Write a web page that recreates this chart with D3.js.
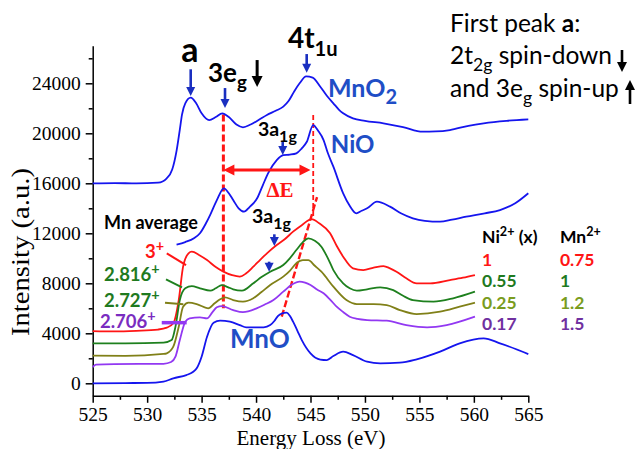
<!DOCTYPE html>
<html>
<head>
<meta charset="utf-8">
<script src="https://cdn.jsdelivr.net/npm/d3@7"></script>
<style>
  body { margin: 0; background: #fff; }
  svg { display: block; }
  .lbl { font-family: Lato, "Open Sans", sans-serif; font-weight: 700; }
</style>
</head>
<body>
<div id="chart"></div>
<script>
// Energy loss spectra (eV, a.u.)
const mno2 = [[525,16000],[527,16020],[529,15990],[531,16050],[531.8,16400],[532.3,17100],[532.7,18600],[533.0,20300],[533.2,21500],[533.5,22400],[534.0,22850],[534.5,22400],[535.0,21600],[535.7,21050],[536.3,21300],[536.9,21600],[537.5,21300],[538.2,20700],[538.8,20480],[539.5,20700],[540.3,21100],[541.0,21460],[541.8,21800],[542.5,22130],[543.0,22600],[543.5,23350],[544.0,24000],[544.6,24550],[545.2,24450],[545.9,23730],[546.5,23000],[547.1,22400],[547.6,21900],[548.0,21600],[548.9,21200],[550,21000],[551.7,20800],[553.5,20500],[555.3,20130],[556.5,20150],[557.8,20260],[559.5,20600],[560.9,20800],[563,21000],[565,21120]];
const nio = [[532.7,11100],[533.5,11300],[534.3,11600],[534.85,12000],[535.4,12800],[535.8,13500],[536.4,14660],[537.05,15600],[537.5,15200],[537.9,14660],[538.4,14000],[538.9,13730],[539.4,14100],[540.1,14800],[540.6,15800],[541.1,16800],[541.9,17860],[542.5,18260],[543.1,18300],[543.7,18400],[544.2,18800],[544.65,19300],[545.25,20660],[545.7,20200],[546.2,19460],[546.6,18400],[547.1,17330],[548.0,15200],[548.6,14200],[549.2,13600],[549.7,13800],[550.2,14000],[551.1,14530],[552.3,14130],[553.3,13600],[554.4,13200],[555.5,13000],[556.9,12930],[558,13100],[559.3,13330],[561,13600],[562.4,13860],[563.8,14400],[565,15200]];
const mn3 = [[525,4180],[527,4150],[529,4200],[531,4300],[531.8,4450],[532.4,4800],[532.9,6660],[533.3,9330],[533.8,10400],[534.1,10530],[534.8,10250],[535.5,9860],[536.3,9300],[537.0,8930],[537.8,8650],[538.5,8530],[539.1,8800],[539.75,9330],[540.4,9900],[541.0,10400],[541.9,11060],[542.6,11500],[543.4,12130],[544.2,12650],[545.1,13140],[545.8,12800],[546.8,12000],[547.4,11000],[548.0,10130],[548.9,9200],[549.85,9060],[550.8,9250],[551.7,9380],[552.3,9200],[552.9,8930],[553.8,8400],[554.75,8000],[556.0,8000],[557.8,8260],[559,8450],[560.1,8660]];
const mn2816 = [[525,3200],[528,3200],[531.5,3250],[532.25,3460],[532.6,4530],[533.0,6660],[533.5,7600],[534.1,7780],[534.85,7600],[535.8,7410],[536.3,7600],[536.85,7860],[537.4,7700],[537.9,7520],[538.7,7410],[539.75,8000],[540.5,8500],[541.3,8930],[542.5,9460],[543.1,10000],[543.7,10660],[544.3,11300],[544.8,11600],[545.4,11400],[546.0,10930],[546.6,10000],[547.1,9060],[548.0,8000],[548.6,7600],[549.25,7410],[550.2,7520],[551.4,7680],[552.6,7460],[553.5,7000],[554.4,6660],[556.3,6530],[558.1,6800],[560.1,7330]];
const mn2727 = [[525,2210],[528,2200],[531.5,2350],[531.8,2400],[532.4,2930],[532.9,4530],[533.3,6130],[533.8,6450],[534.55,6340],[535.6,6000],[536.2,6400],[536.7,6720],[537.15,6880],[537.9,6660],[538.8,6530],[539.75,6800],[540.5,7300],[541.3,7860],[542.5,8530],[543.1,9000],[543.7,9600],[544.3,9850],[544.8,9850],[545.4,9400],[546.0,8930],[547.1,7730],[548.3,6660],[549.25,6340],[550.8,6340],[552.0,6260],[553.2,5860],[554.75,5540],[556.9,5730],[558.7,6130],[560.1,6450]];
const mn2706 = [[525,1300],[525.3,1500],[527,1540],[531.5,1560],[532.2,1700],[532.6,2130],[533.0,3460],[533.5,4930],[533.9,5200],[534.85,5280],[535.5,5200],[536.0,5700],[536.4,6080],[536.85,6180],[537.9,5860],[538.8,5700],[540.05,6000],[540.8,6300],[541.6,6660],[542.5,7330],[543.3,7900],[544.0,8130],[544.5,8050],[545.0,7860],[545.6,7500],[546.2,7200],[546.8,6700],[547.4,6130],[548.0,5700],[548.6,5330],[549.3,5150],[550.2,5060],[552.0,5010],[553.8,4660],[555.7,4480],[557.5,4660],[560.1,5330]];
const mno = [[525,0],[528,20],[530,30],[531.5,130],[532.4,400],[533.6,660],[534.2,900],[534.55,1200],[535.0,2130],[535.5,3730],[536.1,4850],[536.7,5010],[537.6,4930],[538.5,4660],[539.1,4480],[540.7,4480],[541.3,4660],[541.7,5000],[542.0,5380],[542.4,5600],[542.8,5650],[543.1,5400],[543.4,4930],[543.8,4200],[544.2,3460],[545.0,2400],[545.9,1900],[546.5,1860],[547.1,2180],[548.0,2530],[548.9,2260],[550.2,1730],[551.4,1600],[553.2,1650],[554.75,1920],[556.9,2530],[558.7,3200],[560.9,3600],[562.4,3200],[565,2340]];

const series = [
  {data: mno2, color: "#1515ee"},
  {data: nio, color: "#1515ee"},
  {data: mn3, color: "#ff1515"},
  {data: mn2816, color: "#1e801e"},
  {data: mn2727, color: "#808018"},
  {data: mn2706, color: "#9238f2"},
  {data: mno, color: "#1515ee"}
];

const xTicks = [525, 530, 535, 540, 545, 550, 555, 560, 565];
const yTicks = [0, 4000, 8000, 12000, 16000, 20000, 24000];

// table on the right: Ni2+ fraction and Mn2+ content
const niFrac = ["1", "0.55", "0.25", "0.17"];
const mn2Frac = ["0.75", "1", "1.2", "1.5"];
const tableColors = ["#ff1515", "#1f7a1f", "#7a9c1e", "#7030a0"];

// Mn average valence labels with leader lines
const valenceLabels = [
  {txt: "3", e: 529.8, v: 10020, color: "#ff1515", lead: [[531.8,10400],[533.57,9460]], lc: "#ff1515", lw: 2},
  {txt: "2.816", e: 526.04, v: 8180, color: "#1f7a1f", lead: [[531.73,8320],[533.2,7680]], lc: "#1e801e", lw: 2},
  {txt: "2.727", e: 526.04, v: 6100, color: "#1f7a1f", lead: [[531.64,6450],[533.32,6320]], lc: "#808018", lw: 2},
  {txt: "2.706", e: 525.67, v: 4420, color: "#7a2cc0", lead: [[531.34,4850],[533.63,4850]], lc: "#9238f2", lw: 3.5}
];

// blue pointer arrows: [energy, from, to]
const blueArrows = [[534.0,25120,22980],[537.15,23620,22020],[544.65,26340,24850],[542.45,19300,18260],[541.68,11920,10980],[541.2,9730,8930]];

const W = 636, H = 449;
const serif = "'Liberation Serif', 'Times New Roman', serif";
const x = d3.scaleLinear().domain([525, 565]).range([92.7, 528.3]);
const y = d3.scaleLinear().domain([-1000, 27000]).range([395.8, 45.8]);

const svg = d3.select("#chart").append("svg").attr("width", W).attr("height", H);

// axes
const xg = svg.append("g").attr("transform", `translate(0,${y(-1000)})`);
xg.call(d3.axisBottom(x).tickValues(xTicks).tickSize(7).tickSizeOuter(0).tickPadding(4).tickFormat(d3.format("d")));
xg.append("g").call(d3.axisBottom(x).tickValues(xTicks.slice(0, -1).map(d => d + 2.5)).tickSize(4).tickFormat(""))
  .select(".domain").remove();
const yg = svg.append("g").attr("transform", `translate(${x(525)},0)`);
yg.call(d3.axisLeft(y).tickValues(yTicks).tickSize(7).tickSizeOuter(0).tickPadding(5).tickFormat(d3.format("d")));
yg.append("g").call(d3.axisLeft(y).tickValues(yTicks.map(d => d + 2000)).tickSize(4).tickFormat(""))
  .select(".domain").remove();
svg.selectAll(".domain, .tick line").attr("stroke", "#000").attr("stroke-width", 1.5);
svg.selectAll(".tick text").attr("font-family", serif).style("font-family", serif)
  .style("font-size", "19.5px").attr("fill", "#000");

svg.append("text")
  .attr("transform", "translate(311,445)")
  .attr("text-anchor", "middle")
  .attr("font-family", serif).style("font-family", serif)
  .style("font-size", "21px")
  .text("Energy Loss (eV)");
svg.append("text")
  .attr("transform", `translate(29,${y(10500)}) rotate(-90)`)
  .attr("text-anchor", "middle")
  .attr("textLength", 168)
  .attr("lengthAdjust", "spacingAndGlyphs")
  .attr("font-family", serif).style("font-family", serif)
  .style("font-size", "26px")
  .text("Intensity (a.u.)");

// red dashed guides
const guides = svg.append("g").attr("fill", "none").attr("stroke", "#ff1515");
guides.append("line").attr("x1", x(537.0)).attr("x2", x(537.0)).attr("y1", y(21500)).attr("y2", y(6000))
  .attr("stroke-width", 3).attr("stroke-dasharray", "7,3");
guides.append("line").attr("x1", x(545.25)).attr("x2", x(545.25)).attr("y1", y(21460)).attr("y2", y(13220))
  .attr("stroke-width", 1.8).attr("stroke-dasharray", "5,3");
guides.append("line").attr("x1", x(542.36)).attr("x2", x(545.6)).attr("y1", y(5330)).attr("y2", y(14900))
  .attr("stroke-width", 2.4).attr("stroke-dasharray", "7,3");

// spectra
const line = d3.line().x(d => x(d[0])).y(d => y(d[1])).curve(d3.curveMonotoneX);
svg.append("g").selectAll("path").data(series).join("path")
  .attr("d", d => line(d.data))
  .attr("fill", "none")
  .attr("stroke", d => d.color)
  .attr("stroke-width", 1.8)
  .attr("stroke-linejoin", "round");

// arrow helper (vertical), tip at y2
function vArrow(g, xp, y1, y2, color, sw, hw, hl) {
  const dir = y2 > y1 ? 1 : -1;
  g.append("line").attr("x1", xp).attr("x2", xp).attr("y1", y1).attr("y2", y2 - dir * hl * 0.8)
    .attr("stroke", color).attr("stroke-width", sw);
  g.append("path").attr("d", `M${xp - hw / 2},${y2 - dir * hl}L${xp + hw / 2},${y2 - dir * hl}L${xp},${y2}Z`)
    .attr("fill", color);
}
const arrows = svg.append("g");
blueArrows.forEach(a => vArrow(arrows, x(a[0]), y(a[1]), y(a[2]), "#1a2fc0", 2.6, 9, 9));

// delta E double arrow
const dE = svg.append("g");
dE.append("line").attr("x1", x(537.0) + 8).attr("x2", x(545.0) - 8).attr("y1", y(17060)).attr("y2", y(17060))
  .attr("stroke", "#ff1515").attr("stroke-width", 3);
dE.append("path").attr("d", `M${x(537.0)},${y(17060)}l11,-5.5v11Z M${x(545.0)},${y(17060)}l-11,-5.5v11Z`)
  .attr("fill", "#ff1515");
dE.append("text").attr("x", x(542.2)).attr("y", y(14900)).attr("text-anchor", "middle")
  .style("font-family", serif).style("font-weight", "bold")
  .style("font-size", "21px").attr("fill", "#ff1515").text("ΔE");

// text with sub/superscript parts
function rich(g, xp, yp, size, color, parts, anchor, subScale) {
  const ss = subScale || 0.72;
  const t = g.append("text").attr("class", "lbl").attr("x", xp).attr("y", yp)
    .style("font-size", size + "px").attr("fill", color).attr("text-anchor", anchor || "start");
  let shift = 0;
  parts.forEach(p => {
    const s = t.append("tspan").text(p.t);
    let target = 0;
    if (p.sub) { target = size * 0.28; s.style("font-size", (size * ss) + "px"); }
    if (p.sup) { target = -size * 0.38; s.style("font-size", (size * ss) + "px"); }
    if (p.w) s.style("font-weight", p.w);
    s.attr("dy", target - shift);
    shift = target;
  });
  return t;
}
const labels = svg.append("g");
rich(labels, x(533.93), y(25700), 34, "#000", [{t: "a"}], "middle");
rich(labels, x(535.59), y(24100), 26, "#000", [{t: "3e"}, {t: "g", sub: true}]);
vArrow(labels, x(540.1), y(25860), y(23700), "#000", 3, 11, 11);
rich(labels, x(542.93), y(26820), 28, "#000", [{t: "4t"}, {t: "1u", sub: true}]);
rich(labels, x(546.6), y(22900), 25, "#1f4ec6", [{t: "MnO"}, {t: "2", sub: true}], null, 0.8);
rich(labels, x(546.87), y(18420), 24, "#1f4ec6", [{t: "NiO"}]);
rich(labels, x(540.17), y(19780), 19.5, "#000", [{t: "3a"}, {t: "1g", sub: true}], null, 0.82);
rich(labels, x(539.63), y(12820), 19.5, "#000", [{t: "3a"}, {t: "1g", sub: true}], null, 0.82);
rich(labels, x(526.04), y(12350), 18, "#000", [{t: "Mn average"}]);
rich(labels, x(537.6), y(2820), 26, "#1f4ec6", [{t: "MnO"}]);

const vl = svg.append("g");
valenceLabels.forEach(d => {
  rich(vl, x(d.e), y(d.v), 18.5, d.color, [{t: d.txt}, {t: "+", sup: true}], null, 0.78);
  vl.append("path").attr("d", d3.line().x(p => x(p[0])).y(p => y(p[1]))(d.lead))
    .attr("stroke", d.lc).attr("stroke-width", d.lw).attr("fill", "none");
});

// Ni2+ / Mn2+ table
const tb = svg.append("g");
rich(tb, x(560.75), y(11220), 17.5, "#000", [{t: "Ni"}, {t: "2+", sup: true}, {t: " (x)"}]);
rich(tb, x(567.9), y(11220), 17.5, "#000", [{t: "Mn"}, {t: "2+", sup: true}]);
const rowV = [9410, 7730, 5920, 4260];
niFrac.forEach((d, i) => {
  rich(tb, x(560.75), y(rowV[i]), 17.5, tableColors[i], [{t: d}]);
  rich(tb, x(567.9), y(rowV[i]), 17.5, tableColors[i], [{t: mn2Frac[i]}]);
});

// note on the top right
const note = svg.append("g");
rich(note, 450, 32, 24.5, "#000", [{t: "First peak ", w: 400}, {t: "a"}, {t: ":", w: 400}]);
rich(note, 450, 64, 24.5, "#000", [{t: "2t", w: 400}, {t: "2g", sub: true, w: 400}, {t: " spin-down", w: 400}]);
rich(note, 450, 97, 24.5, "#000", [{t: "and 3e", w: 400}, {t: "g", sub: true, w: 400}, {t: " spin-up", w: 400}]);
vArrow(note, 622, 50, 72, "#000", 2.6, 10, 10);
vArrow(note, 630, 104, 80, "#000", 2.6, 10, 10);
</script>
</body>
</html>
